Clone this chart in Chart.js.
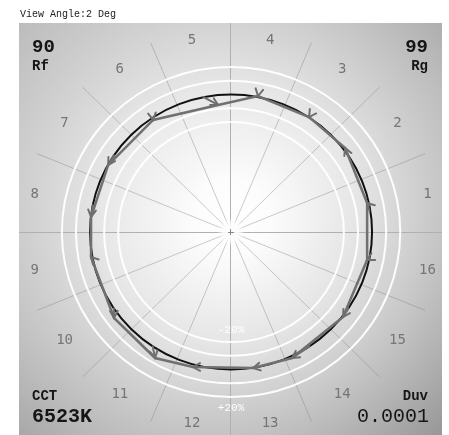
<!DOCTYPE html>
<html>
<head>
<meta charset="utf-8">
<script src="https://cdn.jsdelivr.net/npm/chart.js@4"></script>
<style>
  html, body { margin: 0; padding: 0; background: #fff; }
  canvas { display: block; }
</style>
</head>
<body>
<canvas id="c" width="449" height="435"></canvas>
<script>
// ---- data ----
const titleText = 'View Angle:2 Deg';
const binLabels = ['1','2','3','4','5','6','7','8','9','10','11','12','13','14','15','16'];
const binAnglesDeg = [11.25, 33.75, 56.25, 78.75, 101.25, 123.75, 146.25, 168.75,
                      191.25, 213.75, 236.25, 258.75, 281.25, 303.75, 326.25, 348.75];
// test chromaticity per hue bin, normalised so the reference circle has radius 1
const testX = [0.965, 0.809, 0.553, 0.191, -0.092, -0.553, -0.872, -0.993,
               -0.993, -0.830, -0.539, -0.270, 0.156, 0.433, 0.794, 0.965];
const testY = [0.211, 0.611, 0.836, 0.989, 0.924, 0.815, 0.487, 0.109,
               -0.182, -0.625, -0.916, -0.982, -0.989, -0.916, -0.618, -0.204];
const ringLevels = [0.8, 0.9, 1.1, 1.2];
const ringLabels = [{text: '-20%', level: 0.8, inside: true}, {text: '+20%', level: 1.2, inside: false}];
const spokeAnglesDeg = [22.5, 45, 67.5, 112.5, 135, 157.5, 202.5, 225, 247.5, 292.5, 315, 337.5];
const metricRf = '90', metricRg = '99', metricCCT = '6523K', metricDuv = '0.0001';

const rad = d => d * Math.PI / 180;
const polygon = testX.map((x, i) => ({x: x, y: testY[i]}));
polygon.push({x: testX[0], y: testY[0]});

const decor = {
  id: 'decor',
  beforeDatasetsDraw(chart) {
    const {ctx, chartArea: a, scales: {x, y}} = chart;
    const cx = x.getPixelForValue(0), cy = y.getPixelForValue(0);
    const ux = x.getPixelForValue(1) - cx, uy = cy - y.getPixelForValue(1);
    ctx.save();
    // background
    ctx.beginPath(); ctx.rect(a.left, a.top, a.width, a.height); ctx.clip();
    const g = ctx.createRadialGradient(cx, cy - 15, 0, cx, cy - 15, 320);
    g.addColorStop(0, '#ffffff');
    g.addColorStop(0.12, '#fcfcfc');
    g.addColorStop(0.4, '#e6e6e6');
    g.addColorStop(0.7, '#c4c4c4');
    g.addColorStop(1, '#a2a2a2');
    ctx.fillStyle = g; ctx.fillRect(a.left, a.top, a.width, a.height);
    const lg = ctx.createLinearGradient(a.left, a.top, a.right, a.bottom);
    lg.addColorStop(0, 'rgba(255,255,255,0.18)');
    lg.addColorStop(0.5, 'rgba(255,255,255,0)');
    lg.addColorStop(1, 'rgba(0,0,0,0.10)');
    ctx.fillStyle = lg; ctx.fillRect(a.left, a.top, a.width, a.height);
    // axes lines
    ctx.strokeStyle = '#b0b0b0'; ctx.lineWidth = 1;
    ctx.beginPath();
    ctx.moveTo(Math.round(cx) - 0.5, a.top); ctx.lineTo(Math.round(cx) - 0.5, a.bottom);
    ctx.moveTo(a.left, Math.round(cy) + 0.5); ctx.lineTo(a.right, Math.round(cy) + 0.5);
    ctx.stroke();
    // spokes
    ctx.strokeStyle = 'rgba(130,130,130,0.6)'; ctx.lineWidth = 0.7;
    spokeAnglesDeg.forEach(d => {
      const px = x.getPixelForValue(1.49 * Math.cos(rad(d)));
      const py = y.getPixelForValue(1.49 * Math.sin(rad(d)));
      ctx.beginPath(); ctx.moveTo(cx, cy); ctx.lineTo(px, py); ctx.stroke();
    });
    // center glow
    const cg = ctx.createRadialGradient(cx, cy, 0, cx, cy, 14);
    cg.addColorStop(0, 'rgba(255,255,255,1)');
    cg.addColorStop(0.6, 'rgba(255,255,255,0.8)');
    cg.addColorStop(1, 'rgba(255,255,255,0)');
    ctx.fillStyle = cg; ctx.beginPath(); ctx.arc(cx, cy, 14, 0, Math.PI * 2); ctx.fill();
    ctx.strokeStyle = '#888'; ctx.lineWidth = 1;
    ctx.beginPath();
    ctx.moveTo(cx - 3, cy + 0.5); ctx.lineTo(cx + 3, cy + 0.5);
    ctx.moveTo(cx - 0.5, cy - 3); ctx.lineTo(cx - 0.5, cy + 3);
    ctx.stroke();
    // rings
    ctx.strokeStyle = 'rgba(255,255,255,0.95)'; ctx.lineWidth = 2;
    ringLevels.forEach(r => {
      ctx.beginPath(); ctx.ellipse(cx, cy, ux * r, uy * r, 0, 0, Math.PI * 2); ctx.stroke();
    });
    // reference circle
    ctx.strokeStyle = '#111'; ctx.lineWidth = 2;
    ctx.beginPath(); ctx.ellipse(cx, cy, ux, uy, 0, 0, Math.PI * 2); ctx.stroke();
    ctx.restore();
  },
  afterDatasetsDraw(chart) {
    const {ctx, chartArea: a, scales: {x, y}} = chart;
    const cx = x.getPixelForValue(0), cy = y.getPixelForValue(0);
    ctx.save();
    // arrows from reference to test
    ctx.strokeStyle = '#6f6f6f'; ctx.lineWidth = 2; ctx.lineCap = 'round';
    binAnglesDeg.forEach((d, i) => {
      const rx = x.getPixelForValue(Math.cos(rad(d))), ry = y.getPixelForValue(Math.sin(rad(d)));
      const tx = x.getPixelForValue(testX[i]), ty = y.getPixelForValue(testY[i]);
      let dx = tx - rx, dy = ty - ry;
      let L = Math.hypot(dx, dy);
      if (L < 2) { dx = cx - rx; dy = cy - ry; L = Math.hypot(dx, dy); }
      else { ctx.beginPath(); ctx.moveTo(rx, ry); ctx.lineTo(tx, ty); ctx.stroke(); }
      const ang = Math.atan2(dy, dx), h = 8, s = 0.5;
      ctx.beginPath();
      ctx.moveTo(tx - h * Math.cos(ang - s), ty - h * Math.sin(ang - s));
      ctx.lineTo(tx, ty);
      ctx.lineTo(tx - h * Math.cos(ang + s), ty - h * Math.sin(ang + s));
      ctx.stroke();
    });
    // bin labels
    ctx.fillStyle = '#757575';
    ctx.font = '14px "DejaVu Sans Mono"';
    ctx.textAlign = 'center'; ctx.textBaseline = 'middle';
    binAnglesDeg.forEach((d, i) => {
      ctx.fillText(binLabels[i], x.getPixelForValue(1.42 * Math.cos(rad(d))), y.getPixelForValue(1.42 * Math.sin(rad(d))));
    });
    // ring labels
    ctx.fillStyle = '#ffffff';
    ctx.font = '11px "Liberation Mono"';
    ringLabels.forEach(l => {
      const py = y.getPixelForValue(-l.level) + (l.inside ? -12 : 11);
      ctx.fillText(l.text, cx, py);
    });
    // metric texts
    ctx.fillStyle = '#151515';
    ctx.textBaseline = 'alphabetic';
    ctx.textAlign = 'left';
    ctx.font = 'bold 19px "Liberation Mono"';
    ctx.fillText(metricRf, a.left + 13, 52);
    ctx.font = 'bold 14px "Liberation Mono"';
    ctx.fillText('Rf', a.left + 13, 70);
    ctx.fillText('CCT', a.left + 13, 400);
    ctx.font = 'bold 20px "Liberation Mono"';
    ctx.fillText(metricCCT, a.left + 13, 422);
    ctx.textAlign = 'right';
    ctx.font = 'bold 19px "Liberation Mono"';
    ctx.fillText(metricRg, 428, 52);
    ctx.font = 'bold 14px "Liberation Mono"';
    ctx.fillText('Rg', 428, 70);
    ctx.fillText('Duv', 428, 400);
    ctx.font = '20px "Liberation Mono"';
    ctx.fillText(metricDuv, 429, 422);
    ctx.restore();
    // title
    ctx.save();
    ctx.fillStyle = '#222';
    ctx.font = '10px "Liberation Mono"';
    ctx.textAlign = 'left'; ctx.textBaseline = 'alphabetic';
    ctx.fillText(titleText, 20, 17);
    ctx.restore();
  }
};

new Chart(document.getElementById('c'), {
  type: 'scatter',
  data: {
    datasets: [{
      data: polygon,
      showLine: true,
      borderColor: '#707070',
      borderWidth: 2.5,
      pointRadius: 0,
      fill: false,
      tension: 0
    }]
  },
  options: {
    responsive: false,
    animation: false,
    layout: {padding: {left: 19, top: 23, right: 7, bottom: 0}},
    plugins: {legend: {display: false}, tooltip: {enabled: false}, title: {display: false}},
    scales: {
      x: {type: 'linear', min: -1.504, max: 1.496, display: false},
      y: {type: 'linear', min: -1.476, max: 1.52, display: false}
    }
  },
  plugins: [decor]
});
</script>
</body>
</html>
